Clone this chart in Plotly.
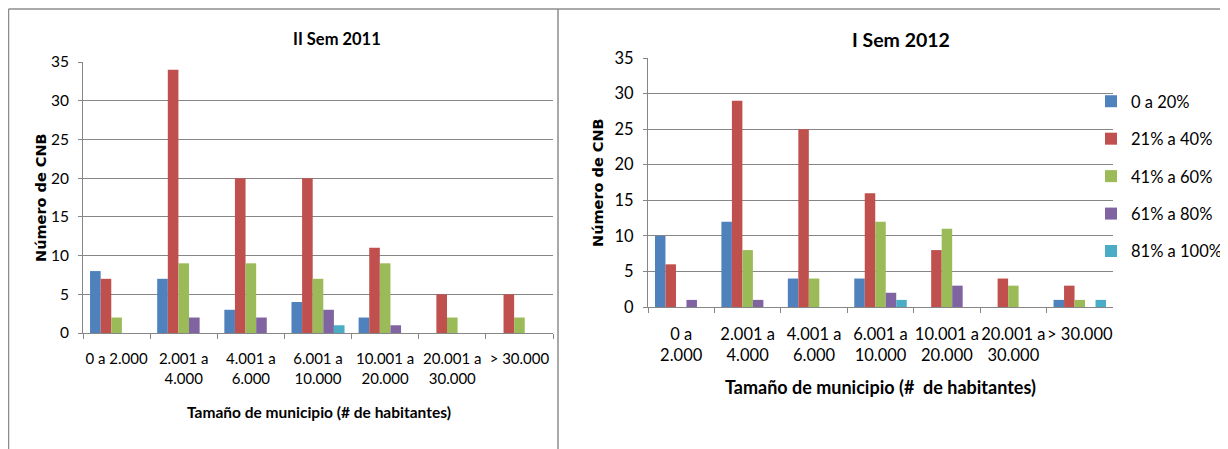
import plotly.graph_objects as go

# The page places the figure 8px from the top-left corner of the window,
# so the figure is sized to the remaining visible area.
OFF = 8
W, H = 1228 - OFF, 449 - OFF

categories_left = ["0 a 2.000", "2.001 a<br>4.000", "4.001 a<br>6.000", "6.001 a<br>10.000",
                   "10.001 a<br>20.000", "20.001 a<br>30.000", "> 30.000"]
categories_right = ["0 a<br>2.000", "2.001 a<br>4.000", "4.001 a<br>6.000", "6.001 a<br>10.000",
                    "10.001 a<br>20.000", "20.001 a<br>30.000", "> 30.000"]

series_names = ["0 a 20%", "21% a 40%", "41% a 60%", "61% a 80%", "81% a 100%"]
colors = ["#4F81BD", "#C0504D", "#9BBB59", "#8064A2", "#4BACC6"]

# II Sem 2011
left_0_20 = [8, 7, 3, 4, 2, 0, 0]
left_21_40 = [7, 34, 20, 20, 11, 5, 5]
left_41_60 = [2, 9, 9, 7, 9, 2, 2]
left_61_80 = [0, 2, 2, 3, 1, 0, 0]
left_81_100 = [0, 0, 0, 1, 0, 0, 0]

# I Sem 2012
right_0_20 = [10, 12, 4, 4, 0, 0, 1]
right_21_40 = [6, 29, 25, 16, 8, 4, 3]
right_41_60 = [0, 8, 4, 12, 11, 3, 1]
right_61_80 = [1, 1, 0, 2, 3, 0, 0]
right_81_100 = [0, 0, 0, 1, 0, 0, 1]

left_series = [left_0_20, left_21_40, left_41_60, left_61_80, left_81_100]
right_series = [right_0_20, right_21_40, right_41_60, right_61_80, right_81_100]

y_ticks = [0, 5, 10, 15, 20, 25, 30, 35]

FONT = "Lato, Liberation Sans, sans-serif"
GRID = "#868686"

fig = go.Figure()
for i, name in enumerate(series_names):
    fig.add_trace(go.Bar(x=categories_left, y=left_series[i], name=name,
                         marker=dict(color=colors[i], line=dict(width=0)),
                         xaxis="x", yaxis="y", showlegend=False, legendgroup=name))
for i, name in enumerate(series_names):
    fig.add_trace(go.Bar(x=categories_right, y=right_series[i], name=name,
                         marker=dict(color=colors[i], line=dict(width=0)),
                         xaxis="x2", yaxis="y2", showlegend=True, legendgroup=name))

def px_x(v):
    return (v - OFF) / W

def px_y(v):
    return 1 - (v - OFF) / H

xcommon = dict(type="category", showgrid=False, showline=True, linecolor=GRID, linewidth=1,
               ticks="outside", tickson="boundaries", ticklen=5, tickcolor=GRID,
               ticklabelstandoff=12, tickangle=0, color="#000000", automargin=False)
ycommon = dict(range=[0, 35], tickvals=y_ticks, showgrid=True, gridcolor=GRID, gridwidth=1,
               showline=True, linecolor=GRID, linewidth=1, ticks="outside", ticklen=4,
               tickcolor=GRID, zeroline=False, color="#000000", ticklabelstandoff=6,
               automargin=False)

fig.update_layout(
    width=W, height=H,
    margin=dict(l=0, r=0, t=0, b=0, pad=0, autoexpand=False),
    paper_bgcolor="white", plot_bgcolor="white",
    barmode="group", bargap=0.21, bargroupgap=0,
    xaxis=dict(domain=[px_x(83), px_x(553)], anchor="y",
               tickfont=dict(family=FONT, size=15), **xcommon),
    yaxis=dict(domain=[px_y(333), px_y(62)], anchor="x",
               tickfont=dict(family=FONT, size=15.5), **ycommon),
    xaxis2=dict(domain=[px_x(648), px_x(1113)], anchor="y2",
                tickfont=dict(family=FONT, size=16.5), **xcommon),
    yaxis2=dict(domain=[px_y(307), px_y(58)], anchor="x2",
                tickfont=dict(family=FONT, size=16.5), **ycommon),
    legend=dict(x=px_x(1091), y=px_y(84), xanchor="left", yanchor="top",
                font=dict(family=FONT, size=16.5, color="#000000"),
                traceorder="grouped", tracegroupgap=13, bgcolor="rgba(0,0,0,0)",
                itemclick=False),
    showlegend=True,
)

annotations = [
    dict(text="<b>II Sem 2011</b>", x=px_x(337), y=px_y(39), font=dict(family=FONT, size=16.5)),
    dict(text="<b>I Sem 2012</b>", x=px_x(901), y=px_y(39), font=dict(family=FONT, size=19.5)),
    dict(text="<b>Número de CNB</b>", x=px_x(41), y=px_y(198), textangle=-90,
         font=dict(family="DejaVu Sans", size=14.5)),
    dict(text="<b>Número de CNB</b>", x=px_x(598), y=px_y(183), textangle=-90,
         font=dict(family="DejaVu Sans", size=14.5)),
    dict(text="<b>Tamaño de municipio (# de habitantes)</b>", x=px_x(319), y=px_y(412),
         font=dict(family=FONT, size=15.5)),
    dict(text="<b>Tamaño de municipio (#  de habitantes)</b>", x=px_x(880), y=px_y(387),
         font=dict(family=FONT, size=18)),
]
for a in annotations:
    a.update(xref="paper", yref="paper", showarrow=False, xanchor="center", yanchor="middle")
    a["font"]["color"] = "#000000"
fig.update_layout(annotations=annotations)

border = dict(color="#8C8C8C", width=1.5)
fig.update_layout(shapes=[
    dict(type="line", xref="paper", yref="paper", x0=px_x(8.5), x1=px_x(8.5), y0=px_y(9), y1=0, line=border),
    dict(type="line", xref="paper", yref="paper", x0=px_x(8.5), x1=1, y0=px_y(9), y1=px_y(9), line=border),
    dict(type="line", xref="paper", yref="paper", x0=px_x(558), x1=px_x(558), y0=px_y(9), y1=0, line=border),
])

fig.write_html("out.html")
